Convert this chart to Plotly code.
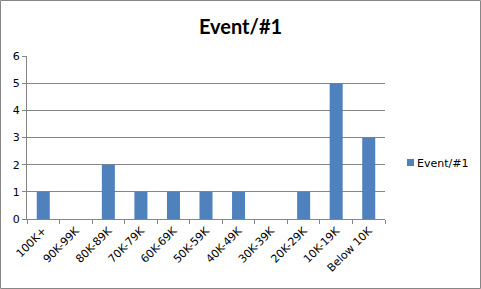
import plotly.graph_objects as go

categories = ["100K+", "90K-99K", "80K-89K", "70K-79K", "60K-69K", "50K-59K",
              "40K-49K", "30K-39K", "20K-29K", "10K-19K", "Below 10K"]
values = [1, 0, 2, 1, 1, 1, 1, 0, 1, 5, 3]
series_name = "Event/#1"
y_ticks = [0, 1, 2, 3, 4, 5, 6]
bar_color = "#4F81BD"

W, H = 481, 289
L, R, T, B = 27, 96, 56, 70
pw, ph = W - L - R, H - T - B

fig = go.Figure()
fig.add_trace(go.Bar(x=categories, y=values, name=series_name, showlegend=False,
                     marker=dict(color=bar_color, line=dict(width=0))))

def px2x(p):
    return (p - L) / pw
def px2y(p):
    return 1 - (p - T) / ph

tick_font = dict(family="DejaVu Sans, sans-serif", size=11, color="black")

fig.update_layout(
    width=W, height=H,
    margin=dict(l=L, r=R, t=T, b=B, pad=0, autoexpand=False),
    paper_bgcolor="white", plot_bgcolor="white",
    bargap=0.6,
    showlegend=False,
    title=dict(text="<b>Event/#1</b>", x=0.5, xanchor="center", y=1 - 27 / H, yanchor="middle",
               font=dict(family="Lato, Open Sans, sans-serif", size=20, color="black")),
    xaxis=dict(type="category", showgrid=False, showline=True, linecolor="#868686", linewidth=1,
               ticks="outside", ticklen=4, tickcolor="#868686", tickson="boundaries",
               tickangle=-45, automargin=False, tickfont=tick_font,
               range=[-0.5, len(categories) - 0.5]),
    yaxis=dict(range=[0, 6], tickvals=y_ticks, showgrid=True, gridcolor="#868686", gridwidth=1,
               showline=True, linecolor="#868686", linewidth=1, zeroline=False,
               ticks="outside", ticklen=4, tickcolor="#868686", automargin=False,
               tickfont=tick_font),
    shapes=[
        dict(type="rect", xref="paper", yref="paper",
             x0=px2x(0.5), x1=px2x(W - 0.5), y0=px2y(0.5), y1=px2y(H - 0.5),
             line=dict(color="#868686", width=1), layer="above"),
        dict(type="rect", xref="paper", yref="paper",
             x0=px2x(407), x1=px2x(414), y0=px2y(159), y1=px2y(166),
             fillcolor=bar_color, line=dict(width=0)),
    ],
    annotations=[dict(text=series_name, xref="paper", yref="paper", x=px2x(415), y=px2y(163),
                      xanchor="left", yanchor="middle", showarrow=False,
                      font=dict(family="DejaVu Sans, sans-serif", size=11, color="black"))],
)

fig.write_html("out.html")
